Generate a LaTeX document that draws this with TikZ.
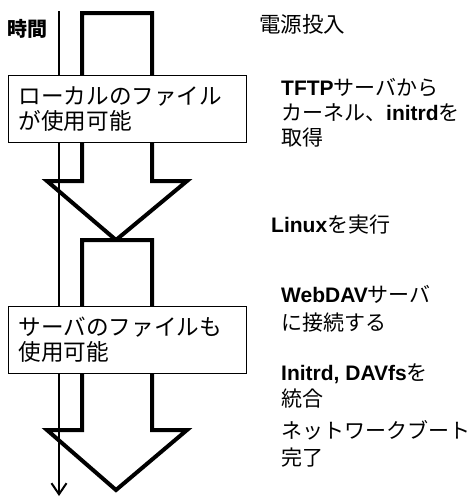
\documentclass[tikz,border=0pt]{standalone}
\usepackage{fontspec}
\setmainfont{Noto Sans CJK JP}
\newfontfamily\latfont{Liberation Sans}
\newcommand\lt[1]{{\latfont\bfseries #1}}
\usetikzlibrary{arrows.meta}
\begin{document}
\begin{tikzpicture}[x=1pt,y=-1pt,
  bigarrow/.style={draw, line width=4pt, fill=white, line join=miter, miter limit=10},
  timeaxis/.style={draw, line width=2.6pt, -{Straight Barb[length=11pt,width=15pt,line width=2pt]}},
  infobox/.style={draw, line width=1.4pt, fill=white, anchor=north west,
    minimum width=238pt, minimum height=67pt, inner xsep=10pt, inner ysep=0pt,
    text width=218pt, align=left, font=\fontsize{22.6}{25}\selectfont},
  steptext/.style={anchor=west, align=left, inner sep=0pt}
]
\useasboundingbox (0,0) rectangle (473,498);
% big arrows
\draw[bigarrow] (82,13) -- (152,13) -- (152,181) -- (187,181) -- (116,240) -- (47,181) -- (82,181) -- cycle;
\draw[bigarrow] (82,240) -- (152,240) -- (152,430) -- (187,430) -- (116,490) -- (47,430) -- (82,430) -- cycle;
% time axis
\coordinate (tstart) at (59,11);
\coordinate (tend) at (59,496);
\draw[timeaxis] (tstart) -- (tend);
\node[steptext, font=\fontsize{20}{24}\selectfont\bfseries] (jikan) at (7,29) {時間};
% boxes
\node[infobox] (box1) at (8,75) {ローカルのファイル\\が使用可能};
\node[infobox] (box2) at (8,306) {サーバのファイルも\\使用可能};
% steps
\node[steptext, font=\fontsize{21.5}{25}\selectfont] (s1) at (259,24) {電源投入};
\node[steptext, font=\fontsize{21}{25}\selectfont] (s2) at (281,113) {\lt{TFTP}サーバから\\カーネル、\lt{initrd}を\\取得};
\node[steptext, font=\fontsize{21}{25}\selectfont] (s3) at (271,225) {\lt{Linux}を実行};
\node[steptext, font=\fontsize{21}{28}\selectfont] (s4) at (281,309) {\lt{WebDAV}サーバ\\に接続する};
\node[steptext, font=\fontsize{21}{26}\selectfont] (s5) at (281,386) {\lt{Initrd, DAVfs}を\\統合};
\node[steptext, font=\fontsize{21}{27}\selectfont] (s6) at (281,444) {ネットワークブート\\完了};
\end{tikzpicture}
\end{document}
